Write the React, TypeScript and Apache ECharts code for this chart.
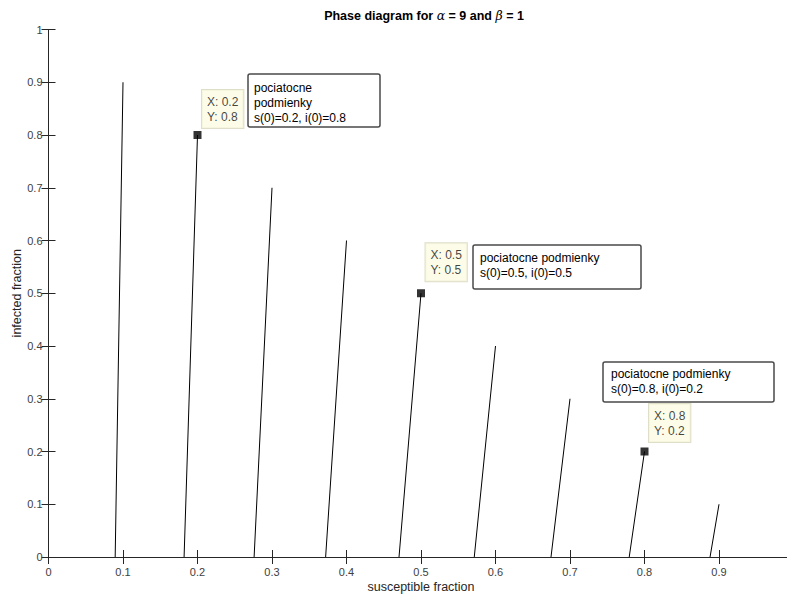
import React, { useEffect, useRef } from 'react';
import * as echarts from 'echarts';

// Trajectory start points s(0), i(0) and where each trajectory meets i = 0
const startS = [0.1, 0.2, 0.3, 0.4, 0.5, 0.6, 0.7, 0.8, 0.9];
const startI = [0.9, 0.8, 0.7, 0.6, 0.5, 0.4, 0.3, 0.2, 0.1];
const finalS = [0.0895, 0.182, 0.276, 0.372, 0.4705, 0.5715, 0.6745, 0.7795, 0.888];

// Data tips
const tipS = [0.2, 0.5, 0.8];
const tipI = [0.8, 0.5, 0.2];

// Annotation texts
const noteTexts = [
  'pociatocne\npodmienky\ns(0)=0.2, i(0)=0.8',
  'pociatocne podmienky\ns(0)=0.5, i(0)=0.5',
  'pociatocne podmienky\ns(0)=0.8, i(0)=0.2',
];

// Layout (pixels)
const tipLabelOffsets = [[8.5, -3], [8.5, -8], [8.5, -5.5]];
const noteBoxes = [
  { x: 248, y: 74, w: 132, h: 53, tx: 254, ty: 80 },
  { x: 473, y: 245, w: 168, h: 44, tx: 480, ty: 250.5 },
  { x: 603, y: 362, w: 171, h: 40, tx: 611, ty: 366.5 },
];

const FONT = '"Liberation Sans", Arial, Helvetica, sans-serif';
const AX = '#262626';

export default function App() {
  const ref = useRef<HTMLDivElement>(null);
  useEffect(() => {
    document.body.style.margin = '0';
    const chart = echarts.init(ref.current!, null, { renderer: 'svg' });
    const fmt = (v: number) => (v === 0 ? '0' : String(+v.toFixed(1)));
    const lineSeries = startS.map((s, k) => ({
      type: 'line',
      data: [[finalS[k], 0], [s, startI[k]]],
      showSymbol: false,
      symbol: 'none',
      lineStyle: { color: '#000', width: 1 },
      z: 2,
    }));
    const tipSeries = {
      type: 'scatter',
      symbol: 'rect',
      symbolSize: 8,
      itemStyle: { color: '#000' },
      z: 5,
      data: tipS.map((s, k) => ({
        value: [s, tipI[k]],
        label: {
          show: true,
          position: tipLabelOffsets[k],
          align: 'left',
          verticalAlign: 'bottom',
          formatter: `X: ${s}\nY: ${tipI[k]}`,
          fontFamily: FONT,
          fontSize: 12,
          lineHeight: 15,
          color: '#111',
          backgroundColor: '#fbfbe3',
          borderColor: '#d6d6bc',
          borderWidth: 1,
          padding: [4, 5, 4, 5],
        },
      })),
    };
    const graphics: any[] = [];
    noteBoxes.forEach((b, k) => {
      graphics.push({
        type: 'rect',
        shape: { x: b.x, y: b.y, width: b.w, height: b.h, r: 2 },
        style: { fill: '#fff', stroke: '#4a4a4a', lineWidth: 1.5 },
        z: 10,
      });
      graphics.push({
        type: 'text',
        x: b.tx,
        y: b.ty,
        style: {
          text: noteTexts[k],
          font: `12px ${FONT}`,
          fill: '#000',
          lineHeight: 15.3,
          textVerticalAlign: 'top',
        },
        z: 11,
      });
    });
    chart.setOption({
      animation: false,
      backgroundColor: '#fff',
      title: {
        text: '{n|Phase diagram for }{g|α}{n| = 9 and }{g|β}{n| = 1}',
        left: 419,
        top: 4,
        textAlign: 'center',
        textStyle: {
          rich: {
            n: { fontFamily: FONT, fontWeight: 'bold', fontSize: 12.5, color: '#000' },
            g: { fontFamily: '"DejaVu Serif", serif', fontStyle: 'italic', fontWeight: 'normal', fontSize: 12.5, color: '#000' },
          },
        },
      },
      grid: { left: 48.5, top: 29.5, width: 745, height: 527.5, containLabel: false, outerBoundsMode: 'none' },
      xAxis: [
        {
          type: 'value', min: 0, max: 1, interval: 0.1, position: 'bottom',
          name: 'susceptible fraction', nameLocation: 'middle', nameGap: 23, nameMoveOverlap: false,
          nameTextStyle: { fontFamily: FONT, fontSize: 12.5, color: AX },
          axisLine: { show: true, lineStyle: { color: AX, width: 1 } },
          axisTick: { show: true, inside: true, length: 7, lineStyle: { color: AX } },
          axisLabel: { fontFamily: FONT, fontSize: 11, color: '#404040', margin: 9, formatter: (v: number) => (v >= 1 ? '' : fmt(v)) },
          splitLine: { show: false },
        },
        {
          type: 'value', min: 0, max: 1, interval: 0.1, position: 'top',
          axisLine: { show: true, lineStyle: { color: AX, width: 1 } },
          axisTick: { show: true, inside: true, length: 7, lineStyle: { color: AX } },
          axisLabel: { show: false },
          splitLine: { show: false },
        },
      ],
      yAxis: [
        {
          type: 'value', min: 0, max: 1, interval: 0.1, position: 'left',
          name: 'infected fraction', nameLocation: 'middle', nameGap: 25, nameMoveOverlap: false,
          nameTextStyle: { fontFamily: FONT, fontSize: 12.5, color: AX },
          axisLine: { show: true, lineStyle: { color: AX, width: 1 } },
          axisTick: { show: true, inside: true, length: 7, lineStyle: { color: AX } },
          axisLabel: { fontFamily: FONT, fontSize: 11, color: '#404040', margin: 6, formatter: fmt },
          splitLine: { show: false },
        },
        {
          type: 'value', min: 0, max: 1, interval: 0.1, position: 'right',
          axisLine: { show: true, lineStyle: { color: AX, width: 1 } },
          axisTick: { show: true, inside: true, length: 7, lineStyle: { color: AX } },
          axisLabel: { show: false },
          splitLine: { show: false },
        },
      ],
      series: [...lineSeries, tipSeries],
      graphic: graphics,
    });
    return () => chart.dispose();
  }, []);
  return <div ref={ref} style={{ width: 787, height: 595, overflow: 'hidden' }} />;
}
